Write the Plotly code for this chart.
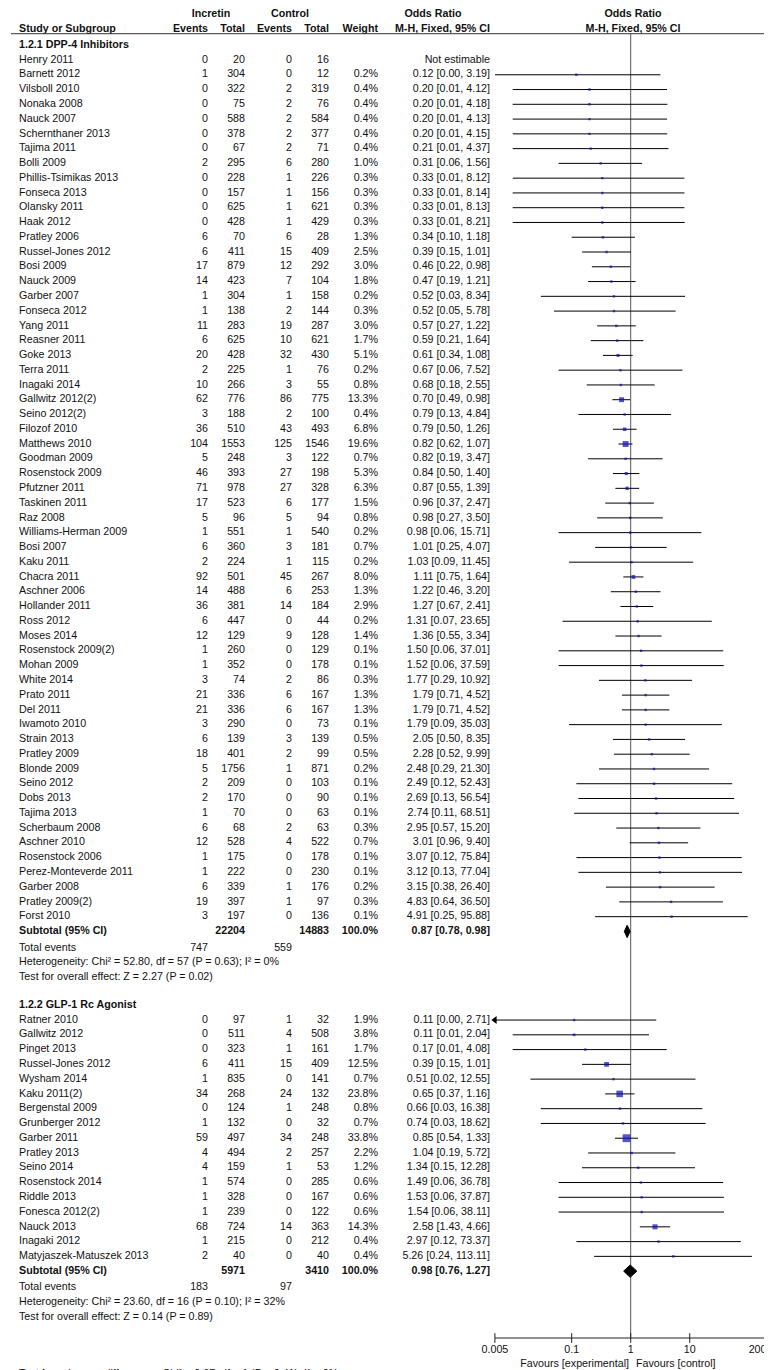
import math
import plotly.graph_objects as go

# ---------------- data ----------------
XMIN, XMAX = 0.005, 200
axis_ticks = [0.005, 0.1, 1, 10, 200]
axis_tick_labels = ["0.005", "0.1", "1", "10", "200"]

dpp_title = "1.2.1 DPP-4 Inhibitors"
dpp_study = ["Henry 2011", "Barnett 2012", "Vilsboll 2010", "Nonaka 2008", "Nauck 2007",
             "Schernthaner 2013", "Tajima 2011", "Bolli 2009", "Phillis-Tsimikas 2013",
             "Fonseca 2013", "Olansky 2011", "Haak 2012", "Pratley 2006", "Russel-Jones 2012",
             "Bosi 2009", "Nauck 2009", "Garber 2007", "Fonseca 2012", "Yang 2011",
             "Reasner 2011", "Goke 2013", "Terra 2011", "Inagaki 2014", "Gallwitz 2012(2)",
             "Seino 2012(2)", "Filozof 2010", "Matthews 2010", "Goodman 2009",
             "Rosenstock 2009", "Pfutzner 2011", "Taskinen 2011", "Raz 2008",
             "Williams-Herman 2009", "Bosi 2007", "Kaku 2011", "Chacra 2011", "Aschner 2006",
             "Hollander 2011", "Ross 2012", "Moses 2014", "Rosenstock 2009(2)", "Mohan 2009",
             "White 2014", "Prato 2011", "Del 2011", "Iwamoto 2010", "Strain 2013",
             "Pratley 2009", "Blonde 2009", "Seino 2012", "Dobs 2013", "Tajima 2013",
             "Scherbaum 2008", "Aschner 2010", "Rosenstock 2006", "Perez-Monteverde 2011",
             "Garber 2008", "Pratley 2009(2)", "Forst 2010"]
dpp_e1 = [0, 1, 0, 0, 0, 0, 0, 2, 0, 0, 0, 0, 6, 6, 17, 14, 1, 1, 11, 6, 20, 2, 10, 62, 3, 36,
          104, 5, 46, 71, 17, 5, 1, 6, 2, 92, 14, 36, 6, 12, 1, 1, 3, 21, 21, 3, 6, 18, 5, 2, 2,
          1, 6, 12, 1, 1, 6, 19, 3]
dpp_n1 = [20, 304, 322, 75, 588, 378, 67, 295, 228, 157, 625, 428, 70, 411, 879, 423, 304, 138,
          283, 625, 428, 225, 266, 776, 188, 510, 1553, 248, 393, 978, 523, 96, 551, 360, 224,
          501, 488, 381, 447, 129, 260, 352, 74, 336, 336, 290, 139, 401, 1756, 209, 170, 70,
          68, 528, 175, 222, 339, 397, 197]
dpp_e2 = [0, 0, 2, 2, 2, 2, 2, 6, 1, 1, 1, 1, 6, 15, 12, 7, 1, 2, 19, 10, 32, 1, 3, 86, 2, 43,
          125, 3, 27, 27, 6, 5, 1, 3, 1, 45, 6, 14, 0, 9, 0, 0, 2, 6, 6, 0, 3, 2, 1, 0, 0, 0, 2,
          4, 0, 0, 1, 1, 0]
dpp_n2 = [16, 12, 319, 76, 584, 377, 71, 280, 226, 156, 621, 429, 28, 409, 292, 104, 158, 144,
          287, 621, 430, 76, 55, 775, 100, 493, 1546, 122, 198, 328, 177, 94, 540, 181, 115,
          267, 253, 184, 44, 128, 129, 178, 86, 167, 167, 73, 139, 99, 871, 103, 90, 63, 63,
          522, 178, 230, 176, 97, 136]
dpp_weight = [None, 0.2, 0.4, 0.4, 0.4, 0.4, 0.4, 1.0, 0.3, 0.3, 0.3, 0.3, 1.3, 2.5, 3.0, 1.8,
              0.2, 0.3, 3.0, 1.7, 5.1, 0.2, 0.8, 13.3, 0.4, 6.8, 19.6, 0.7, 5.3, 6.3, 1.5, 0.8,
              0.2, 0.7, 0.2, 8.0, 1.3, 2.9, 0.2, 1.4, 0.1, 0.1, 0.3, 1.3, 1.3, 0.1, 0.5, 0.5,
              0.2, 0.1, 0.1, 0.1, 0.3, 0.7, 0.1, 0.1, 0.2, 0.3, 0.1]
dpp_or = [None, 0.12, 0.20, 0.20, 0.20, 0.20, 0.21, 0.31, 0.33, 0.33, 0.33, 0.33, 0.34, 0.39,
          0.46, 0.47, 0.52, 0.52, 0.57, 0.59, 0.61, 0.67, 0.68, 0.70, 0.79, 0.79, 0.82, 0.82,
          0.84, 0.87, 0.96, 0.98, 0.98, 1.01, 1.03, 1.11, 1.22, 1.27, 1.31, 1.36, 1.50, 1.52,
          1.77, 1.79, 1.79, 1.79, 2.05, 2.28, 2.48, 2.49, 2.69, 2.74, 2.95, 3.01, 3.07, 3.12,
          3.15, 4.83, 4.91]
dpp_lo = [None, 0.0049, 0.01, 0.01, 0.01, 0.01, 0.01, 0.06, 0.01, 0.01, 0.01, 0.01, 0.10,
          0.15, 0.22, 0.19, 0.03, 0.05, 0.27, 0.21, 0.34, 0.06, 0.18, 0.49, 0.13, 0.50, 0.62,
          0.19, 0.50, 0.55, 0.37, 0.27, 0.06, 0.25, 0.09, 0.75, 0.46, 0.67, 0.07, 0.55, 0.06,
          0.06, 0.29, 0.71, 0.71, 0.09, 0.50, 0.52, 0.29, 0.12, 0.13, 0.11, 0.57, 0.96, 0.12,
          0.13, 0.38, 0.64, 0.25]
dpp_hi = [None, 3.19, 4.12, 4.18, 4.13, 4.15, 4.37, 1.56, 8.12, 8.14, 8.13, 8.21, 1.18, 1.01,
          0.98, 1.21, 8.34, 5.78, 1.22, 1.64, 1.08, 7.52, 2.55, 0.98, 4.84, 1.26, 1.07, 3.47,
          1.40, 1.39, 2.47, 3.50, 15.71, 4.07, 11.45, 1.64, 3.20, 2.41, 23.65, 3.34, 37.01,
          37.59, 10.92, 4.52, 4.52, 35.03, 8.35, 9.99, 21.30, 52.43, 56.54, 68.51, 15.20, 9.40,
          75.84, 77.04, 26.40, 36.50, 95.88]
dpp_subtotal = [22204, 14883, 100.0, 0.87, 0.78, 0.98]   # n1, n2, weight, OR, lo, hi
dpp_events = [747, 559]
dpp_het = "Heterogeneity: Chi² = 52.80, df = 57 (P = 0.63); I² = 0%"
dpp_test = "Test for overall effect: Z = 2.27 (P = 0.02)"

glp_title = "1.2.2 GLP-1 Rc Agonist"
glp_study = ["Ratner 2010", "Gallwitz 2012", "Pinget 2013", "Russel-Jones 2012", "Wysham 2014",
             "Kaku 2011(2)", "Bergenstal 2009", "Grunberger 2012", "Garber 2011",
             "Pratley 2013", "Seino 2014", "Rosenstock 2014", "Riddle 2013", "Fonesca 2012(2)",
             "Nauck 2013", "Inagaki 2012", "Matyjaszek-Matuszek 2013"]
glp_e1 = [0, 0, 0, 6, 1, 34, 0, 1, 59, 4, 4, 1, 1, 1, 68, 1, 2]
glp_n1 = [97, 511, 323, 411, 835, 268, 124, 132, 497, 494, 159, 574, 328, 239, 724, 215, 40]
glp_e2 = [1, 4, 1, 15, 0, 24, 1, 0, 34, 2, 1, 0, 0, 0, 14, 0, 0]
glp_n2 = [32, 508, 161, 409, 141, 132, 248, 32, 248, 257, 53, 285, 167, 122, 363, 212, 40]
glp_weight = [1.9, 3.8, 1.7, 12.5, 0.7, 23.8, 0.8, 0.7, 33.8, 2.2, 1.2, 0.6, 0.6, 0.6, 14.3,
              0.4, 0.4]
glp_or = [0.11, 0.11, 0.17, 0.39, 0.51, 0.65, 0.66, 0.74, 0.85, 1.04, 1.34, 1.49, 1.53, 1.54,
          2.58, 2.97, 5.26]
glp_lo = [0.0040, 0.01, 0.01, 0.15, 0.02, 0.37, 0.03, 0.03, 0.54, 0.19, 0.15, 0.06, 0.06, 0.06,
          1.43, 0.12, 0.24]
glp_hi = [2.71, 2.04, 4.08, 1.01, 12.55, 1.16, 16.38, 18.62, 1.33, 5.72, 12.28, 36.78, 37.87,
          38.11, 4.66, 73.37, 113.11]
glp_subtotal = [5971, 3410, 100.0, 0.98, 0.76, 1.27]
glp_events = [183, 97]
glp_het = "Heterogeneity: Chi² = 23.60, df = 16 (P = 0.10); I² = 32%"
glp_test = "Test for overall effect: Z = 0.14 (P = 0.89)"

subgroup_test = "Test for subgroup differences: Chi² = 0.67, df = 1 (P = 0.41), I² = 0%"
favours_left = "Favours [experimental]"
favours_right = "Favours [control]"

# ---------------- layout constants ----------------
W, H = 772, 1370
ROW0, PITCH = 52.0, 14.77            # pixel of row 0, row pitch
FONT = "Liberation Sans, Arial, sans-serif"
FS = 10.7
TXT = "#111111"
BLUE = "#0b0bbb"
AX_L, AX_R = 486.9, 758.5            # pixel extent of the 0.005 .. 200 scale
NAME_X, E1_X, N1_X, E2_X, N2_X, W_X, CI_X = 11, 200, 237, 284, 321, 370, 482


def fmt_ci(o, l, h):
    return f"{o:.2f} [{l:.2f}, {h:.2f}]"


rows_text = []   # (y, x, text, anchor)
studies = []     # (y, or, lo, hi, weight)
diamonds = []    # (y, or, lo, hi)


def add(y, x, t, anchor):
    rows_text.append((y, x, t, anchor))


# headers
add(-3.11, 203, "<b>Incretin</b>", "c")
add(-3.11, 282, "<b>Control</b>", "c")
add(-3.11, 425, "<b>Odds Ratio</b>", "c")
add(-3.11, 625, "<b>Odds Ratio</b>", "c")
add(-2.08, NAME_X, "<b>Study or Subgroup</b>", "l")
add(-2.08, E1_X, "<b>Events</b>", "r")
add(-2.08, N1_X, "<b>Total</b>", "r")
add(-2.08, E2_X, "<b>Events</b>", "r")
add(-2.08, N2_X, "<b>Total</b>", "r")
add(-2.08, W_X, "<b>Weight</b>", "r")
add(-2.08, CI_X, "<b>M-H, Fixed, 95% CI</b>", "r")
add(-2.08, 625, "<b>M-H, Fixed, 95% CI</b>", "c")
HEADER_LINE_Y = -1.78


def add_group(start, title, names, e1, n1, e2, n2, wt, orr, lo, hi, sub, ev, het, test):
    y = start
    add(y, NAME_X, f"<b>{title}</b>", "l")
    y += 1
    for i, nm in enumerate(names):
        add(y, NAME_X, nm, "l")
        add(y, E1_X, str(e1[i]), "r")
        add(y, N1_X, str(n1[i]), "r")
        add(y, E2_X, str(e2[i]), "r")
        add(y, N2_X, str(n2[i]), "r")
        if orr[i] is None:
            add(y, CI_X, "Not estimable", "r")
        else:
            add(y, W_X, f"{wt[i]:.1f}%", "r")
            add(y, CI_X, fmt_ci(orr[i], lo[i], hi[i]), "r")
            studies.append((y, orr[i], lo[i], hi[i], wt[i]))
        y += 1
    add(y, NAME_X, "<b>Subtotal (95% CI)</b>", "l")
    add(y, N1_X, f"<b>{sub[0]}</b>", "r")
    add(y, N2_X, f"<b>{sub[1]}</b>", "r")
    add(y, W_X, f"<b>{sub[2]:.1f}%</b>", "r")
    add(y, CI_X, "<b>" + fmt_ci(sub[3], sub[4], sub[5]) + "</b>", "r")
    diamonds.append((y, sub[3], sub[4], sub[5]))
    y += 1.12
    add(y, NAME_X, "Total events", "l")
    add(y, E1_X, str(ev[0]), "r")
    add(y, E2_X, str(ev[1]), "r")
    y += 1
    add(y, NAME_X, het, "l")
    y += 1
    add(y, NAME_X, test, "l")
    return y


end1 = add_group(-1, dpp_title, dpp_study, dpp_e1, dpp_n1, dpp_e2, dpp_n2, dpp_weight,
                 dpp_or, dpp_lo, dpp_hi, dpp_subtotal, dpp_events, dpp_het, dpp_test)
end2 = add_group(round(end1) + 2, glp_title, glp_study, glp_e1, glp_n1, glp_e2, glp_n2,
                 glp_weight, glp_or, glp_lo, glp_hi, glp_subtotal, glp_events, glp_het, glp_test)

AXIS_Y = (1330 - ROW0) / PITCH
TICKLAB_Y = (1342 - ROW0) / PITCH
FAV_Y = (1356.5 - ROW0) / PITCH
SUBG_Y = (1366.5 - ROW0) / PITCH

add(FAV_Y, 621, favours_left, "r")
add(FAV_Y, 628, favours_right, "l")
add(SUBG_Y, NAME_X, subgroup_test, "l")

fig = go.Figure()

# ---- table text ----
pos = {"l": "middle right", "r": "middle left", "c": "middle center"}
for a in ("l", "r", "c"):
    pts = [r for r in rows_text if r[3] == a]
    fig.add_trace(go.Scatter(
        x=[p[1] for p in pts], y=[p[0] for p in pts], text=[p[2] for p in pts],
        mode="text", textposition=pos[a], xaxis="x2", yaxis="y",
        textfont=dict(family=FONT, size=FS, color=TXT), cliponaxis=False,
        hoverinfo="skip", showlegend=False))

# header rule
fig.add_trace(go.Scatter(x=[3, 769], y=[HEADER_LINE_Y, HEADER_LINE_Y], mode="lines",
                         line=dict(color="#333333", width=1), xaxis="x2", yaxis="y",
                         hoverinfo="skip", showlegend=False))

# ---- forest ----
fig.add_trace(go.Scatter(x=[1, 1], y=[HEADER_LINE_Y, AXIS_Y], mode="lines",
                         line=dict(color="#555555", width=1), hoverinfo="skip",
                         showlegend=False))

cx, cy = [], []
arrows = []
for (y, o, l, h, w) in studies:
    cx += [max(l, XMIN), min(h, XMAX), None]
    cy += [y, y, None]
    if l < XMIN * 0.9:
        arrows.append(y)
fig.add_trace(go.Scatter(x=cx, y=cy, mode="lines", line=dict(color="#000000", width=1),
                         hoverinfo="skip", showlegend=False))
if arrows:
    fig.add_trace(go.Scatter(x=[XMIN] * len(arrows), y=arrows, mode="markers",
                             marker=dict(symbol="triangle-left", size=7, color="#000000",
                                         line=dict(width=0)),
                             cliponaxis=False, hoverinfo="skip", showlegend=False))

fig.add_trace(go.Scatter(
    x=[s[1] for s in studies], y=[s[0] for s in studies], mode="markers",
    marker=dict(symbol="square", color=BLUE, line=dict(width=0),
                size=[max(2.4, 1.35 * math.sqrt(s[4])) for s in studies]),
    hoverinfo="skip", showlegend=False))

HALF = 0.42
for (y, o, l, h) in diamonds:
    fig.add_trace(go.Scatter(x=[l, o, h, o, l], y=[y, y - HALF, y, y + HALF, y],
                             mode="lines", fill="toself", fillcolor="#000000",
                             line=dict(color="#000000", width=1), hoverinfo="skip",
                             showlegend=False))

# bottom scale
fig.add_trace(go.Scatter(x=[XMIN, XMAX], y=[AXIS_Y, AXIS_Y], mode="lines",
                         line=dict(color="#222222", width=1), cliponaxis=False,
                         hoverinfo="skip", showlegend=False))
fig.add_trace(go.Scatter(x=axis_ticks, y=[AXIS_Y] * len(axis_ticks), mode="markers",
                         marker=dict(symbol="line-ns", size=7,
                                     line=dict(color="#222222", width=1)),
                         cliponaxis=False, hoverinfo="skip", showlegend=False))
tick_pos = ["middle center"] * (len(axis_ticks) - 1) + ["middle left"]
fig.add_trace(go.Scatter(x=axis_ticks, y=[TICKLAB_Y] * len(axis_ticks), text=axis_tick_labels,
                         mode="text", textposition=tick_pos, cliponaxis=False,
                         textfont=dict(family=FONT, size=FS, color=TXT),
                         hoverinfo="skip", showlegend=False))

fig.update_layout(
    width=W, height=H, margin=dict(l=0, r=0, t=0, b=0, pad=0),
    paper_bgcolor="white", plot_bgcolor="rgba(0,0,0,0)",
    font=dict(family=FONT, size=FS, color=TXT),
    xaxis=dict(type="log", range=[math.log10(XMIN), math.log10(XMAX)],
               domain=[AX_L / W, AX_R / W], visible=False, fixedrange=True),
    xaxis2=dict(range=[0, W], domain=[0, 1], anchor="y", visible=False, fixedrange=True),
    yaxis=dict(range=[(H - ROW0) / PITCH, -ROW0 / PITCH], domain=[0, 1], visible=False,
               fixedrange=True),
    showlegend=False,
)

fig.write_html("out.html")
